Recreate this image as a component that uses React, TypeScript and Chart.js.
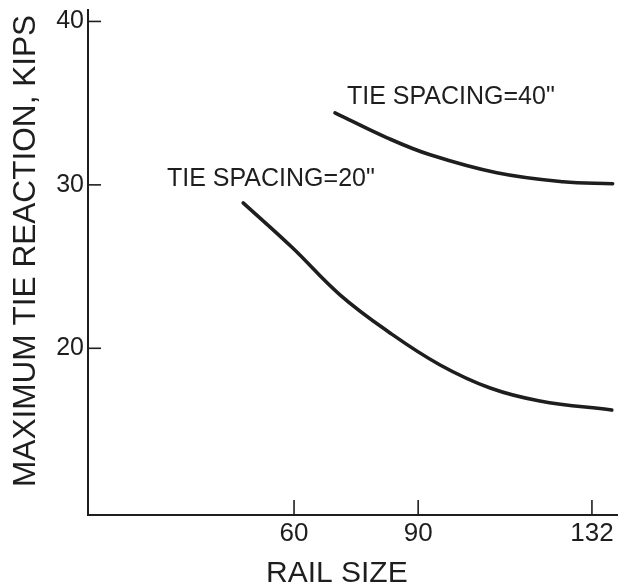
import React, { useEffect, useRef } from "react";
import { Chart, registerables } from "chart.js";

Chart.register(...registerables);

// ---- data ----
const xTickValues = [60, 90, 132];
const yTickValues = [20, 30, 40];

const railSize20 = [47.7, 59.5, 71.1, 83.2, 95.3, 107.4, 119.4, 136.8];
const reaction20 = [28.9, 26.18, 23.27, 20.94, 18.98, 17.57, 16.78, 16.22];

const railSize40 = [69.9, 82.5, 92.9, 109.0, 125.0, 137.0];
const reaction40 = [34.41, 32.88, 31.84, 30.74, 30.19, 30.07];

const seriesLabels = ['TIE SPACING=20"', 'TIE SPACING=40"'];
// label anchors (data coordinates, left / baseline)
const labelX = [29.3, 72.8];
const labelY = [29.94, 34.94];

const xTitle = "RAIL SIZE";
const yTitle = "MAXIMUM TIE REACTION, KIPS";

const FONT = "'Liberation Sans', Arial, sans-serif";
const INK = "#1e1e1e";

export default function App() {
  const ref = useRef<HTMLCanvasElement>(null);

  useEffect(() => {
    const canvas = ref.current;
    if (!canvas) return;

    const tickMarks = {
      id: "tickMarks",
      afterDatasetsDraw(chart: any) {
        const { ctx, chartArea } = chart;
        const xs = chart.scales.x;
        const ys = chart.scales.y;
        ctx.save();
        ctx.strokeStyle = INK;
        ctx.lineWidth = 1.6;
        yTickValues.forEach((v) => {
          const y = ys.getPixelForValue(v);
          ctx.beginPath();
          ctx.moveTo(chartArea.left, y);
          ctx.lineTo(chartArea.left + 13, y);
          ctx.stroke();
        });
        xTickValues.forEach((v) => {
          const x = xs.getPixelForValue(v);
          ctx.beginPath();
          ctx.moveTo(x, chartArea.bottom);
          ctx.lineTo(x, chartArea.bottom - 15);
          ctx.stroke();
        });
        ctx.restore();
      },
    };

    const textLayer = {
      id: "textLayer",
      afterDatasetsDraw(chart: any) {
        const { ctx, chartArea } = chart;
        const xs = chart.scales.x;
        const ys = chart.scales.y;
        ctx.save();
        ctx.fillStyle = INK;
        ctx.textAlign = "left";
        ctx.textBaseline = "alphabetic";
        ctx.font = `25px ${FONT}`;
        seriesLabels.forEach((t, i) => {
          ctx.fillText(t, xs.getPixelForValue(labelX[i]), ys.getPixelForValue(labelY[i]));
        });
        // axis titles
        ctx.font = `30px ${FONT}`;
        ctx.fillText(xTitle, chartArea.left + 178, chartArea.bottom + 67);
        ctx.save();
        ctx.translate(35, chartArea.bottom - 28);
        ctx.rotate(-Math.PI / 2);
        ctx.font = `31.6px ${FONT}`;
        ctx.fillText(yTitle, 0, 0);
        ctx.restore();
        ctx.restore();
      },
    };

    const lineStyle = {
      borderColor: INK,
      borderWidth: 3.6,
      pointRadius: 0,
      tension: 0.4,
      borderCapStyle: "round",
      borderJoinStyle: "round",
      fill: false,
    };

    const chart = new Chart(canvas, {
      type: "line",
      data: {
        datasets: [
          {
            label: seriesLabels[0],
            data: railSize20.map((x, i) => ({ x, y: reaction20[i] })),
            ...lineStyle,
          },
          {
            label: seriesLabels[1],
            data: railSize40.map((x, i) => ({ x, y: reaction40[i] })),
            ...lineStyle,
          },
        ],
      },
      options: {
        responsive: false,
        animation: false,
        devicePixelRatio: 1,
        layout: { padding: { top: 10, right: 0, left: 0, bottom: 0 } },
        plugins: {
          legend: { display: false },
          tooltip: { enabled: false },
        },
        scales: {
          x: {
            type: "linear",
            min: 10.2,
            max: 138.3,
            grid: { display: false, drawTicks: false },
            border: { display: true, color: INK, width: 2 },
            ticks: {
              autoSkip: false,
              maxRotation: 0,
              color: INK,
              padding: 3,
              font: { size: 26, family: FONT },
            },
            afterBuildTicks: (s: any) => {
              s.ticks = xTickValues.map((v) => ({ value: v }));
            },
            afterFit: (s: any) => {
              s.height = 70;
              s.paddingLeft = 0;
              s.paddingRight = 0;
            },
            title: { display: false, text: xTitle },
          },
          y: {
            type: "linear",
            min: 9.8,
            max: 40.7,
            grid: { display: false, drawTicks: false },
            border: { display: true, color: INK, width: 2 },
            ticks: {
              autoSkip: false,
              color: INK,
              padding: 4,
              font: { size: 25, family: FONT },
            },
            afterBuildTicks: (s: any) => {
              s.ticks = yTickValues.map((v) => ({ value: v }));
            },
            afterFit: (s: any) => {
              s.width = 88;
              s.paddingTop = 0;
              s.paddingBottom = 0;
            },
            title: { display: false, text: yTitle },
          },
        },
      },
      plugins: [tickMarks, textLayer],
    } as any);

    return () => chart.destroy();
  }, []);

  return (
    <div style={{ position: "fixed", left: 0, top: 0, width: 618, height: 585, background: "#fff" }}>
      <canvas ref={ref} width={618} height={585} style={{ display: "block" }} />
    </div>
  );
}
